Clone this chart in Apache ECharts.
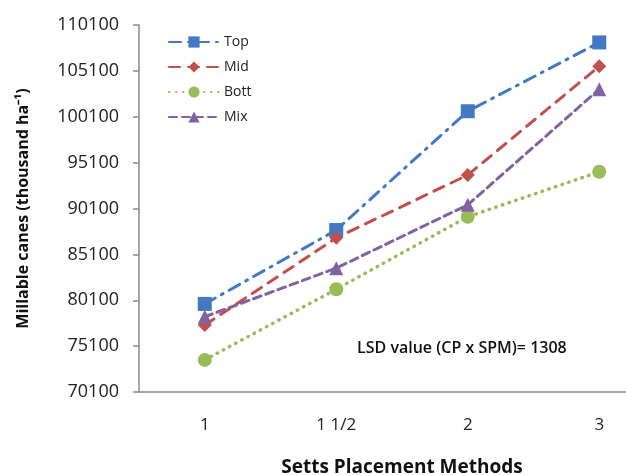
<!DOCTYPE html>
<html>
<head>
<meta charset="utf-8">
<script src="https://cdn.jsdelivr.net/npm/echarts@6/dist/echarts.min.js"></script>
<style>
  html, body { margin: 0; padding: 0; background: #fff; }
  #main { width: 626px; height: 475px; }
</style>
</head>
<body>
<div id="main"></div>
<script>
"use strict";
// setts placement methods
var methods = ["1", "1 1/2", "2", "3"];
// cane position series
var topVals  = [79700, 87750, 100700, 108200];
var midVals  = [77400, 86900, 93750, 105600];
var bottVals = [73600, 81300, 89200, 94100];
var mixVals  = [78300, 83600, 90500, 103100];
var yTicks = [70100, 75100, 80100, 85100, 90100, 95100, 100100, 105100, 110100];
var lsdText = "LSD value (CP x SPM)= 1308";

var FONT = "Open Sans";
var chart = echarts.init(document.getElementById("main"));

function mkSeries(name, data, color, symbol, dash, width) {
    return {
        name: name,
        type: "line",
        data: data,
        symbol: symbol,
        symbolSize: 14,
        itemStyle: { color: color },
        lineStyle: { color: color, width: width, type: dash, cap: "round" },
        z: 3
    };
}

var option = {
    animation: false,
    backgroundColor: "#fff",
    textStyle: { fontFamily: FONT },
    // plot runs past the right edge, like the cropped original
    grid: { left: 139, top: 25, width: 526, height: 367, outerBoundsMode: "none" },
    legend: {
        orient: "vertical",
        left: 163,
        top: 30,
        itemWidth: 50,
        itemHeight: 14,
        itemGap: 11,
        textStyle: { fontSize: 14, color: "#222", fontFamily: FONT },
        data: ["Top", "Mid", "Bott", "Mix"]
    },
    xAxis: {
        type: "category",
        data: methods,
        boundaryGap: true,
        name: "Setts Placement Methods",
        nameLocation: "middle",
        nameGap: 66,
        nameTextStyle: { fontSize: 19, fontWeight: "bold", color: "#111", fontFamily: FONT },
        axisLine: { lineStyle: { color: "#8a8a8a", width: 1.5 } },
        axisTick: { alignWithLabel: true, length: 5, lineStyle: { color: "#8a8a8a", width: 1.5 } },
        axisLabel: { fontSize: 17, color: "#222", margin: 25, fontFamily: FONT },
        splitLine: { show: false }
    },
    yAxis: {
        type: "value",
        min: yTicks[0],
        max: yTicks[yTicks.length - 1],
        interval: 5000,
        name: "Millable canes (thousand ha⁻¹)",
        nameLocation: "middle",
        nameGap: 108,
        nameTextStyle: { fontSize: 16, fontWeight: "bold", color: "#111", fontFamily: FONT },
        axisLine: { show: true, lineStyle: { color: "#8a8a8a", width: 1.5 } },
        axisTick: { show: true, length: 6, lineStyle: { color: "#8a8a8a", width: 1.5 } },
        axisLabel: {
            fontSize: 18, color: "#222", margin: 20, fontFamily: FONT,
            formatter: function (v) { return String(v); }
        },
        splitLine: { show: false }
    },
    graphic: [{
        type: "text",
        left: 357,
        top: 340,
        style: { text: lsdText, fontSize: 16, fontWeight: 600, fill: "#111", fontFamily: FONT }
    }],
    series: [
        mkSeries("Top", topVals, "#4279C2", "rect", [12, 7, 2, 7], 3),
        mkSeries("Mid", midVals, "#C0504D", "diamond", [11, 8], 3),
        mkSeries("Bott", bottVals, "#9BBB59", "circle", [0.5, 6.5], 3.5),
        mkSeries("Mix", mixVals, "#8064A2", "triangle", [8, 5], 3)
    ]
};
chart.setOption(option);
</script>
</body>
</html>
